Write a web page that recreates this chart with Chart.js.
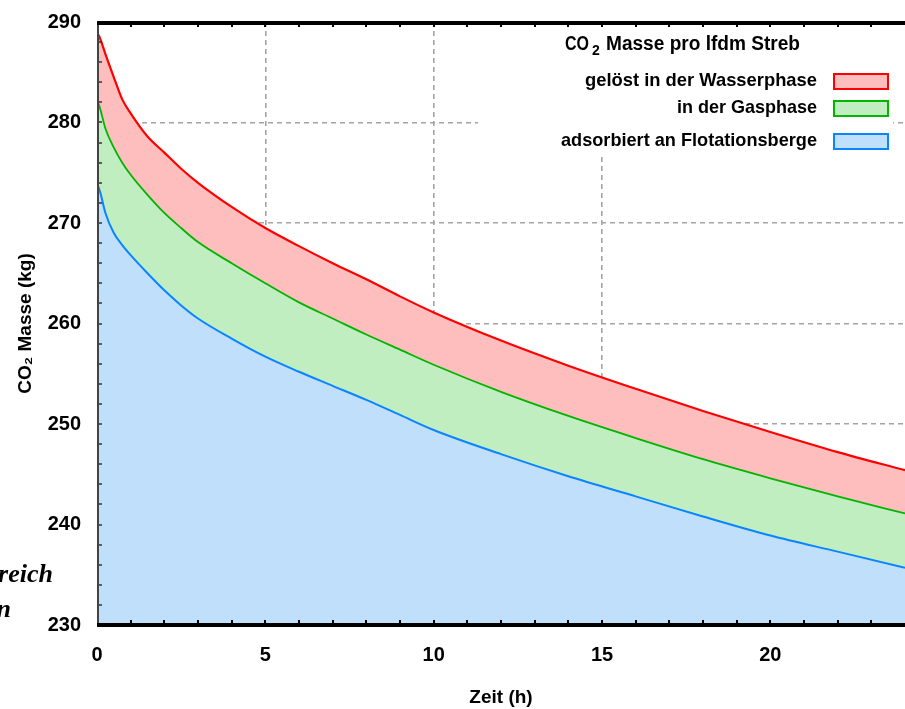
<!DOCTYPE html>
<html lang="de">
<head>
<meta charset="utf-8">
<title>CO2 Masse pro lfdm Streb</title>
<script src="https://cdn.jsdelivr.net/npm/chart.js@4.4.1/dist/chart.umd.min.js"></script>
<style>
  html, body { margin: 0; padding: 0; background: #fff; }
  #wrap { position: relative; width: 905px; height: 709px; overflow: hidden; }
  .note { position: absolute; font: italic bold 26px "Liberation Serif", "DejaVu Serif", serif; color: #000; white-space: nowrap; text-align: right; }
</style>
</head>
<body>
<div id="wrap">
  <canvas id="co2Chart"></canvas>
  <div class="note" style="right:852px; top:559px;">Bereich</div>
  <div class="note" style="right:894px; top:594px;">in</div>
</div>
<script>
// Zeitachse (h)
const hours = [0, 0.1, 0.25, 0.5, 0.75, 1, 1.5, 2, 2.5, 3, 4, 5, 6, 7, 8, 9, 10, 12, 14, 16, 18, 20, 22, 24];

// Obere Grenze: Gesamtmasse inkl. gelöst in der Wasserphase (kg)
const massTotal = [289.0, 288.3, 286.8, 284.5, 282.3, 280.9, 278.6, 277.0, 275.4, 274.0, 271.6, 269.5, 267.7, 266.0, 264.4, 262.7, 261.1, 258.3, 255.8, 253.5, 251.3, 249.2, 247.2, 245.4];
// Grenze Gasphase + adsorbiert (kg)
const massGasAds = [282.3, 281.3, 279.4, 277.5, 276.0, 274.8, 272.8, 271.0, 269.5, 268.1, 266.0, 264.0, 262.1, 260.5, 258.9, 257.4, 255.9, 253.2, 250.8, 248.6, 246.5, 244.6, 242.8, 241.1];
// adsorbiert an Flotationsberge (kg)
const massAdsorbed = [274.0, 273.0, 271.0, 269.0, 267.8, 266.8, 265.0, 263.3, 261.8, 260.5, 258.5, 256.7, 255.2, 253.8, 252.4, 250.9, 249.4, 247.0, 244.8, 242.8, 240.8, 238.9, 237.3, 235.7];

const seriesLabels = ['adsorbiert an Flotationsberge', 'in der Gasphase', 'gelöst in der Wasserphase'];
const xTicks = [0, 5, 10, 15, 20];
const yTicks = [230, 240, 250, 260, 270, 280, 290];

const FONT = "'Liberation Sans', Arial, sans-serif";

function toPoints(values) {
  return hours.map((h, i) => ({ x: h, y: values[i] }));
}

// Rahmen mit Teilstrichen oben, unten und links
const framePlugin = {
  id: 'frame',
  afterDraw(chart) {
    const { ctx, chartArea: a, scales: { x, y } } = chart;
    ctx.save();

    // weißer Kasten hinter der Legende
    ctx.fillStyle = '#fff';
    ctx.fillRect(a.right - 427, a.top, 415, 135);

    ctx.strokeStyle = '#000';
    ctx.lineWidth = 2;
    for (let h = 1; h < 24; h++) {
      const px = Math.round(x.getPixelForValue(h));
      ctx.beginPath(); ctx.moveTo(px, a.top); ctx.lineTo(px, a.top + 5); ctx.stroke();
      ctx.beginPath(); ctx.moveTo(px, a.bottom); ctx.lineTo(px, a.bottom - 5); ctx.stroke();
    }
    ctx.strokeStyle = '#333';
    ctx.lineWidth = 1.5;
    for (let v = 232; v < 290; v += 2) {
      const py = Math.round(y.getPixelForValue(v));
      ctx.beginPath(); ctx.moveTo(a.left, py); ctx.lineTo(a.left + 5, py); ctx.stroke();
    }

    ctx.strokeStyle = '#444';
    ctx.lineWidth = 2;
    ctx.beginPath(); ctx.moveTo(a.left + 1, a.top); ctx.lineTo(a.left + 1, a.bottom); ctx.stroke();

    ctx.strokeStyle = '#000';
    ctx.lineWidth = 4;
    ctx.beginPath(); ctx.moveTo(a.left, a.top + 1); ctx.lineTo(a.right, a.top + 1); ctx.stroke();
    ctx.beginPath(); ctx.moveTo(a.left, a.bottom); ctx.lineTo(a.right, a.bottom); ctx.stroke();
    ctx.restore();
  }
};

// Text in eine vorgegebene Breite bringen (schmale Schrift)
function fitText(ctx, text, x, y, width, align) {
  const w = ctx.measureText(text).width;
  const k = Math.min(1, width / w);
  ctx.save();
  ctx.translate(x, y);
  ctx.scale(k, 1);
  ctx.textAlign = align;
  ctx.fillText(text, 0, 0);
  ctx.restore();
  return w * k;
}

// Legende mit Titel, Text rechtsbündig links neben dem Farbfeld
const legendPlugin = {
  id: 'boxLegend',
  afterDraw(chart) {
    const { ctx, chartArea: a } = chart;
    ctx.save();
    ctx.fillStyle = '#000';
    ctx.textBaseline = 'middle';

    // Titel mit tiefgestellter 2
    const tx = a.right - 340, ty = 44;
    ctx.font = 'bold 20px ' + FONT;
    let w = fitText(ctx, 'CO', tx, ty, 24, 'left');
    ctx.font = 'bold 14px ' + FONT;
    ctx.fillText('2', tx + w + 3, ty + 7);
    w += 17;
    ctx.font = 'bold 20px ' + FONT;
    fitText(ctx, 'Masse pro lfdm Streb', tx + w, ty, 194, 'left');

    const rows = [81, 108, 141];
    const widths = [232, 140, 256];
    const ds = chart.data.datasets.slice().reverse();
    ds.forEach((d, i) => {
      const cy = rows[i];
      ctx.font = 'bold 19px ' + FONT;
      ctx.fillStyle = '#000';
      fitText(ctx, d.label, a.right - 88, cy, widths[i], 'right');
      ctx.fillStyle = d.backgroundColor;
      ctx.fillRect(a.right - 71, cy - 7, 54, 15);
      ctx.strokeStyle = d.borderColor;
      ctx.lineWidth = 2;
      ctx.strokeRect(a.right - 71, cy - 7, 54, 15);
    });
    ctx.restore();
  }
};

const gridColor = ctx => (ctx.tick && (ctx.index === 0 || ctx.index === ctx.scale.ticks.length - 1)) ? 'rgba(0,0,0,0)' : '#a4a4a4';

new Chart(document.getElementById('co2Chart'), {
  type: 'line',
  data: {
    datasets: [
      {
        label: seriesLabels[0],
        data: toPoints(massAdsorbed),
        borderColor: '#0a84ff',
        backgroundColor: '#bfdffb',
        borderWidth: 2,
        fill: 'start'
      },
      {
        label: seriesLabels[1],
        data: toPoints(massGasAds),
        borderColor: '#00b400',
        backgroundColor: '#c0eec0',
        borderWidth: 1.8,
        fill: '-1'
      },
      {
        label: seriesLabels[2],
        data: toPoints(massTotal),
        borderColor: '#ff0000',
        backgroundColor: '#ffbebe',
        borderWidth: 2.2,
        fill: '-1'
      }
    ]
  },
  options: {
    responsive: true,
    maintainAspectRatio: false,
    animation: false,
    layout: { padding: { top: 22, right: 0, left: 0, bottom: 0 } },
    elements: {
      point: { radius: 0 },
      line: { cubicInterpolationMode: 'monotone' }
    },
    plugins: {
      legend: { display: false },
      tooltip: { enabled: false }
    },
    scales: {
      x: {
        type: 'linear',
        min: 0,
        max: 24,
        z: 1,
        afterFit: s => { s.height = 84; s.paddingLeft = 0; s.paddingRight = 0; },
        afterBuildTicks: s => { s.ticks = xTicks.map(v => ({ value: v })); },
        border: { display: false, dash: [5, 4] },
        grid: { color: gridColor, lineWidth: 1.6, drawTicks: false },
        ticks: { padding: 18, color: '#000', font: { family: FONT, size: 20, weight: 'bold' } },
        title: {
          display: true,
          text: 'Zeit (h)',
          color: '#000',
          padding: { top: 0, bottom: 0 },
          font: { family: FONT, size: 19, weight: 'bold' }
        }
      },
      y: {
        min: 230,
        max: 290,
        z: 1,
        afterFit: s => { s.width = 97; s.paddingTop = 0; s.paddingBottom = 0; },
        afterBuildTicks: s => { s.ticks = yTicks.map(v => ({ value: v })); },
        border: { display: false, dash: [5, 4] },
        grid: { color: gridColor, lineWidth: 1.6, drawTicks: false },
        ticks: { padding: 16, color: '#000', font: { family: FONT, size: 20, weight: 'bold' } },
        title: {
          display: true,
          text: 'CO₂ Masse (kg)',
          color: '#000',
          padding: { top: 14, bottom: 0 },
          font: { family: FONT, size: 19, weight: 'bold' }
        }
      }
    }
  },
  plugins: [framePlugin, legendPlugin]
});
</script>
</body>
</html>
